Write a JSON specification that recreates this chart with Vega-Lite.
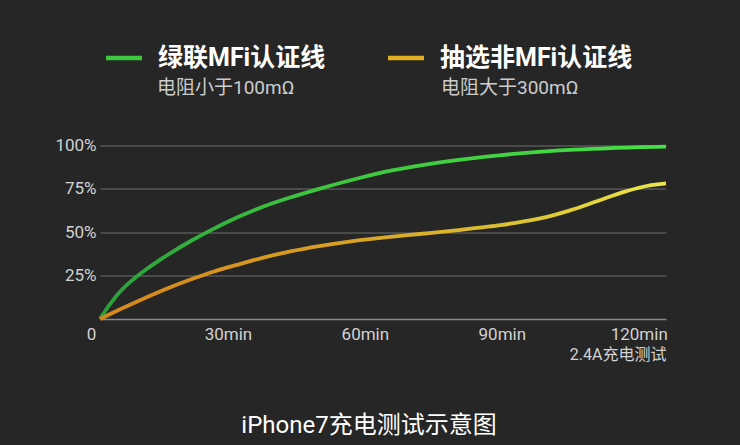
{
  "$schema": "https://vega.github.io/schema/vega-lite/v6.json",
  "width": 566,
  "height": 173.5,
  "autosize": {"type": "none"},
  "padding": {"left": 100, "top": 145.5, "right": 74, "bottom": 126},
  "background": "#262626",
  "config": {
    "view": {"stroke": null},
    "font": "Roboto, 'Noto Sans CJK SC', sans-serif"
  },
  "title": {
    "text": "iPhone7充电测试示意图",
    "orient": "bottom",
    "anchor": "middle",
    "dx": -14,
    "offset": 52,
    "fontSize": 24,
    "fontWeight": "normal",
    "color": "#ffffff"
  },
  "datasets": {
    "curves": [
      {"series": "绿联MFi认证线", "t": 0, "p": 0},
      {"series": "绿联MFi认证线", "t": 1, "p": 4},
      {"series": "绿联MFi认证线", "t": 2, "p": 7.8},
      {"series": "绿联MFi认证线", "t": 3, "p": 11.3},
      {"series": "绿联MFi认证线", "t": 4, "p": 14.5},
      {"series": "绿联MFi认证线", "t": 6, "p": 19.9},
      {"series": "绿联MFi认证线", "t": 8, "p": 24.4},
      {"series": "绿联MFi认证线", "t": 10, "p": 28.4},
      {"series": "绿联MFi认证线", "t": 12, "p": 32.1},
      {"series": "绿联MFi认证线", "t": 16, "p": 38.9},
      {"series": "绿联MFi认证线", "t": 20, "p": 45.1},
      {"series": "绿联MFi认证线", "t": 24, "p": 50.8},
      {"series": "绿联MFi认证线", "t": 30, "p": 58.5},
      {"series": "绿联MFi认证线", "t": 36, "p": 65},
      {"series": "绿联MFi认证线", "t": 42, "p": 70.3},
      {"series": "绿联MFi认证线", "t": 48, "p": 75},
      {"series": "绿联MFi认证线", "t": 56, "p": 80.7},
      {"series": "绿联MFi认证线", "t": 64, "p": 85.6},
      {"series": "绿联MFi认证线", "t": 72, "p": 89.2},
      {"series": "绿联MFi认证线", "t": 80, "p": 92.1},
      {"series": "绿联MFi认证线", "t": 88, "p": 94.5},
      {"series": "绿联MFi认证线", "t": 96, "p": 96.3},
      {"series": "绿联MFi认证线", "t": 104, "p": 97.6},
      {"series": "绿联MFi认证线", "t": 112, "p": 98.5},
      {"series": "绿联MFi认证线", "t": 124, "p": 99.3},
      {"series": "抽选非MFi认证线", "t": 0, "p": 0},
      {"series": "抽选非MFi认证线", "t": 5, "p": 6.3},
      {"series": "抽选非MFi认证线", "t": 10, "p": 12.3},
      {"series": "抽选非MFi认证线", "t": 15, "p": 17.9},
      {"series": "抽选非MFi认证线", "t": 20, "p": 22.9},
      {"series": "抽选非MFi认证线", "t": 25, "p": 27.4},
      {"series": "抽选非MFi认证线", "t": 30, "p": 31.2},
      {"series": "抽选非MFi认证线", "t": 36, "p": 35.5},
      {"series": "抽选非MFi认证线", "t": 42, "p": 39.1},
      {"series": "抽选非MFi认证线", "t": 48, "p": 42},
      {"series": "抽选非MFi认证线", "t": 55, "p": 44.8},
      {"series": "抽选非MFi认证线", "t": 62, "p": 46.9},
      {"series": "抽选非MFi认证线", "t": 70, "p": 49},
      {"series": "抽选非MFi认证线", "t": 78, "p": 51.1},
      {"series": "抽选非MFi认证线", "t": 85, "p": 53.2},
      {"series": "抽选非MFi认证线", "t": 91, "p": 55.4},
      {"series": "抽选非MFi认证线", "t": 97, "p": 58.3},
      {"series": "抽选非MFi认证线", "t": 103, "p": 62.6},
      {"series": "抽选非MFi认证线", "t": 109, "p": 68},
      {"series": "抽选非MFi认证线", "t": 115, "p": 73.4},
      {"series": "抽选非MFi认证线", "t": 120, "p": 76.8},
      {"series": "抽选非MFi认证线", "t": 124, "p": 78.2}
    ],
    "legendRows": [
      {"series": "绿联MFi认证线", "sub": "电阻小于100mΩ"},
      {"series": "抽选非MFi认证线", "sub": "电阻大于300mΩ"}
    ]
  },
  "layer": [
    {
      "data": {"name": "curves"},
      "transform": [{"filter": "datum.series == '绿联MFi认证线'"}],
      "mark": {
        "type": "line",
        "interpolate": "monotone",
        "strokeWidth": 3.8,
        "stroke": {
          "gradient": "linear",
          "x1": 0, "y1": 0, "x2": 1, "y2": 0,
          "stops": [
            {"offset": 0, "color": "#2a9e3c"},
            {"offset": 0.35, "color": "#3cc43e"},
            {"offset": 1, "color": "#46e046"}
          ]
        }
      },
      "encoding": {
        "x": {
          "field": "t",
          "type": "quantitative",
          "scale": {"domain": [0, 124], "nice": false, "zero": false},
          "axis": {
            "values": [0, 30, 60, 90, 120],
            "labelExpr": "datum.value == 0 ? '0' : datum.value + 'min'",
            "labelOffset": -9,
            "labelFlush": false,
            "grid": false,
            "ticks": false,
            "domainColor": "#8a8a8a",
            "domainWidth": 1.5,
            "labelPadding": 7,
            "labelFontSize": 17,
            "labelColor": "#d2d2d2",
            "title": "2.4A充电测试",
            "titleAnchor": "end",
            "titleAlign": "right",
            "titleFontSize": 16,
            "titleFontWeight": "normal",
            "titleColor": "#d2d2d2",
            "titlePadding": 4
          }
        },
        "y": {
          "field": "p",
          "type": "quantitative",
          "scale": {"domain": [0, 100], "nice": false},
          "axis": {
            "values": [25, 50, 75, 100],
            "labelExpr": "datum.value + '%'",
            "grid": true,
            "gridColor": "#6e6e6e",
            "gridWidth": 1,
            "domain": false,
            "ticks": false,
            "labelPadding": 4,
            "labelFontSize": 17,
            "labelColor": "#d2d2d2",
            "title": null
          }
        }
      }
    },
    {
      "data": {"name": "curves"},
      "transform": [{"filter": "datum.series == '抽选非MFi认证线'"}],
      "mark": {
        "type": "line",
        "interpolate": "monotone",
        "strokeWidth": 3.8,
        "stroke": {
          "gradient": "linear",
          "x1": 0, "y1": 0, "x2": 1, "y2": 0,
          "stops": [
            {"offset": 0, "color": "#d4861c"},
            {"offset": 0.45, "color": "#d9a224"},
            {"offset": 0.75, "color": "#dcc432"},
            {"offset": 1, "color": "#ece84a"}
          ]
        }
      },
      "encoding": {
        "x": {"field": "t", "type": "quantitative"},
        "y": {"field": "p", "type": "quantitative"}
      }
    },
    {
      "data": {"name": "legendRows"},
      "mark": {"type": "point", "filled": true, "opacity": 0},
      "encoding": {
        "color": {
          "field": "series",
          "type": "nominal",
          "scale": {"domain": ["绿联MFi认证线", "抽选非MFi认证线"], "range": ["#3cc83c", "#e0b020"]},
          "legend": {
            "orient": "none",
            "legendX": 6,
            "legendY": -105.5,
            "direction": "horizontal",
            "title": null,
            "padding": 0,
            "symbolType": "M-1,-0.12H1V0.12H-1Z",
            "symbolSize": 1296,
            "symbolOpacity": 1,
            "labelFontSize": 25,
            "labelFontWeight": "bold",
            "labelColor": "#ffffff",
            "labelOffset": 16,
            "columnPadding": 62,
            "labelLimit": 400,
            "encode": {
              "symbols": {
                "update": {
                  "fill": [
                    {"test": "datum.index == 0", "value": {"gradient": "linear", "x1": 0, "y1": 0, "x2": 1, "y2": 0, "stops": [{"offset": 0, "color": "#1f8f2a"}, {"offset": 1, "color": "#5cf05c"}]}},
                    {"value": {"gradient": "linear", "x1": 0, "y1": 0, "x2": 1, "y2": 0, "stops": [{"offset": 0, "color": "#d8880e"}, {"offset": 1, "color": "#f2e844"}]}}
                  ],
                  "opacity": {"value": 1},
                  "strokeWidth": {"value": 0}
                }
              }
            }
          }
        },
        "shape": {
          "field": "sub",
          "type": "nominal",
          "scale": {"domain": ["电阻小于100mΩ", "电阻大于300mΩ"], "range": ["circle", "circle"]},
          "legend": {
            "orient": "none",
            "legendX": 38,
            "legendY": -67.5,
            "direction": "horizontal",
            "title": null,
            "padding": 0,
            "symbolSize": 1,
            "symbolOpacity": 0,
            "labelFontSize": 19,
            "labelColor": "#cccccc",
            "labelOffset": 0,
            "columnPadding": 127,
            "labelLimit": 400,
            "encode": {
              "symbols": {"update": {"opacity": {"value": 0}}}
            }
          }
        }
      }
    }
  ]
}
